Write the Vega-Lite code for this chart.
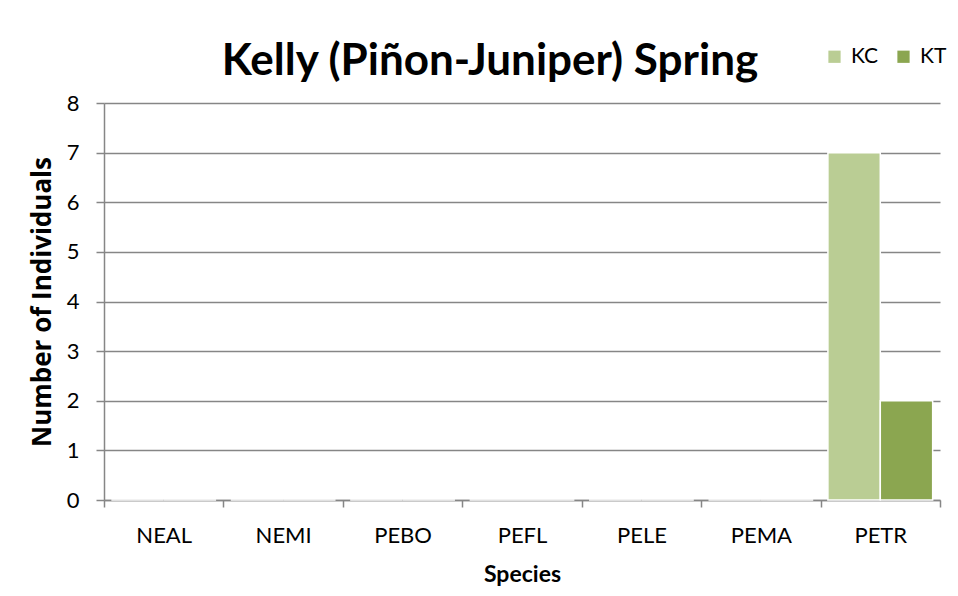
{
  "$schema": "https://vega.github.io/schema/vega-lite/v6.json",
  "width": 836,
  "height": 397,
  "autosize": {"type": "none"},
  "padding": {"left": 104, "top": 103, "right": 18, "bottom": 96},
  "background": "white",
  "title": {
    "text": "Kelly (Piñon-Juniper) Spring",
    "font": "Lato",
    "fontSize": 44,
    "fontWeight": "bold",
    "color": "#000000",
    "anchor": "middle",
    "dx": -32,
    "dy": 60,
    "offset": 22
  },
  "data": {
    "values": [
      {"species": "NEAL", "site": "KC", "count": 0},
      {"species": "NEAL", "site": "KT", "count": 0},
      {"species": "NEMI", "site": "KC", "count": 0},
      {"species": "NEMI", "site": "KT", "count": 0},
      {"species": "PEBO", "site": "KC", "count": 0},
      {"species": "PEBO", "site": "KT", "count": 0},
      {"species": "PEFL", "site": "KC", "count": 0},
      {"species": "PEFL", "site": "KT", "count": 0},
      {"species": "PELE", "site": "KC", "count": 0},
      {"species": "PELE", "site": "KT", "count": 0},
      {"species": "PEMA", "site": "KC", "count": 0},
      {"species": "PEMA", "site": "KT", "count": 0},
      {"species": "PETR", "site": "KC", "count": 7},
      {"species": "PETR", "site": "KT", "count": 2}
    ]
  },
  "mark": {"type": "bar", "stroke": "white", "strokeWidth": 1.5},
  "encoding": {
    "x": {
      "field": "species",
      "type": "nominal",
      "sort": null,
      "scale": {"paddingInner": 0, "paddingOuter": 0},
      "axis": {
        "title": "Species",
        "titleFont": "Lato",
        "titleFontSize": 23,
        "titleFontWeight": "bold",
        "titleColor": "#000000",
        "titlePadding": 17,
        "labelFont": "Lato",
        "labelFontSize": 22,
        "labelColor": "#000000",
        "labelAngle": 0,
        "labelPadding": 18,
        "tickBand": "extent",
        "tickSize": 7,
        "tickColor": "#868686",
        "tickWidth": 1.5,
        "domainColor": "#868686",
        "domainWidth": 1.5,
        "grid": false
      }
    },
    "xOffset": {
      "field": "site",
      "type": "nominal",
      "scale": {"paddingInner": 0, "paddingOuter": 0.14}
    },
    "y": {
      "field": "count",
      "type": "quantitative",
      "scale": {"domain": [0, 8], "nice": false},
      "axis": {
        "title": "Number of Individuals",
        "titleFont": "Open Sans",
        "titleFontSize": 26,
        "titleFontWeight": "bold",
        "titleColor": "#000000",
        "titlePadding": 11,
        "labelFont": "Lato",
        "labelFontSize": 22,
        "labelColor": "#000000",
        "labelPadding": 17,
        "values": [0, 1, 2, 3, 4, 5, 6, 7, 8],
        "tickSize": 8,
        "tickColor": "#868686",
        "tickWidth": 1.5,
        "domainColor": "#868686",
        "domainWidth": 1.5,
        "grid": true,
        "gridColor": "#868686",
        "gridWidth": 1.5
      }
    },
    "color": {
      "field": "site",
      "type": "nominal",
      "scale": {"domain": ["KC", "KT"], "range": ["#BACD94", "#8BA650"]},
      "legend": {
        "title": null,
        "orient": "none",
        "direction": "horizontal",
        "legendX": 720,
        "legendY": -57,
        "symbolType": "square",
        "symbolSize": 150,
        "symbolStrokeWidth": 0,
        "labelFont": "Lato",
        "labelFontSize": 21,
        "labelColor": "#000000",
        "labelOffset": 6,
        "columnPadding": 14
      }
    }
  },
  "config": {
    "view": {"stroke": null}
  }
}
